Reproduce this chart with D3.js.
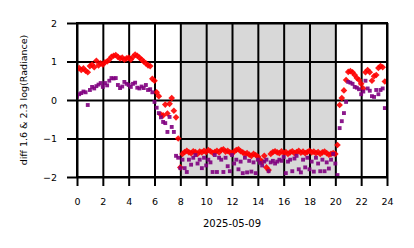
<!DOCTYPE html>
<html>
<head>
<meta charset="utf-8">
<script src="https://cdn.jsdelivr.net/npm/d3@7"></script>
<style>
  body { margin: 0; background: #fff; }
  text { font-family: "DejaVu Sans", sans-serif; fill: #000; }
</style>
</head>
<body>
<svg id="chart" width="414" height="248"></svg>
<script>
// readings every 10 minutes starting at 00:00
const stepHours = 1 / 6;

const redValues = [
  0.80, 0.83, 0.78, 0.82, 0.76, 0.72,
  0.88, 0.92, 0.85, 1.02, 0.90, 0.95,
  0.92, 0.98, 1.00, 1.05, 1.12, 1.15,
  1.17, 1.12, 1.08, 1.10, 1.05, 1.08,
  1.10, 1.05, 1.12, 1.18, 1.15, 1.10,
  1.05, 1.00, 0.95, 0.90, 0.88, 0.55,
  0.50, 0.20, 0.10, -0.38, -0.40, -0.12,
  -0.35, -0.10, 0.05, -0.28, -0.45, -1.00,
  -1.75, -1.40, -1.35, -1.32, -1.36, -1.38,
  -1.33, -1.35, -1.40, -1.34, -1.36, -1.32,
  -1.35, -1.30, -1.33, -1.37, -1.35, -1.32,
  -1.36, -1.30, -1.28, -1.34, -1.32, -1.36,
  -1.38, -1.34, -1.30, -1.28, -1.33, -1.36,
  -1.40, -1.38, -1.42, -1.45, -1.40, -1.43,
  -1.47, -1.55, -1.60, -1.45, -1.75, -1.82,
  -1.40, -1.35, -1.33, -1.36, -1.38, -1.33,
  -1.37, -1.35, -1.40, -1.36, -1.33, -1.38,
  -1.35, -1.32, -1.37, -1.34, -1.38, -1.35,
  -1.32, -1.36, -1.34, -1.38, -1.35, -1.40,
  -1.36, -1.34, -1.38, -1.42, -1.40, -1.38,
  -1.40, -1.17, -0.13, 0.05, 0.25, 0.52,
  0.73, 0.75, 0.72, 0.65, 0.57, 0.52,
  0.42, 0.30, 0.72, 0.78, 0.72, 0.50,
  0.62, 0.65, 0.83, 0.88, 0.85, 0.48
];

const purpleValues = [
  0.08, 0.15, 0.18, 0.22, 0.20, -0.13,
  0.26, 0.34, 0.30, 0.36, 0.40, 0.44,
  0.34, 0.44, 0.38, 0.50, 0.57, 0.56,
  0.57, 0.39, 0.31, 0.35, 0.47, 0.42,
  0.39, 0.34, 0.42, 0.45, 0.32, 0.30,
  0.35, 0.31, 0.39, 0.26, 0.28, 0.20,
  -0.05, -0.20, -0.34, -0.45, -0.57, -0.60,
  -0.83, -0.44, -0.70, -0.83, -1.45, -1.50,
  -1.77, -1.55, -1.77, -1.87, -1.55, -1.68,
  -1.50, -1.43, -1.65, -1.55, -1.77, -1.50,
  -1.70, -1.55, -1.62, -1.87, -1.43, -1.87,
  -1.50, -1.55, -1.87, -1.50, -1.72, -1.85,
  -1.43, -1.65, -1.55, -1.80, -1.60, -1.90,
  -1.50, -1.88, -1.58, -1.86, -1.62, -1.90,
  -1.55, -1.63, -1.70, -1.60, -1.55, -1.85,
  -1.62, -1.58, -1.65, -1.60, -1.55, -1.58,
  -1.48, -1.90, -1.60, -1.55, -1.85, -1.52,
  -1.45, -1.80, -1.88, -1.55, -1.75, -1.50,
  -1.80, -1.60, -1.86, -1.50, -1.65, -1.85,
  -1.55, -1.85, -1.62, -1.78, -1.55, -1.40,
  -1.65, -1.95, -0.73, -0.55, -0.34, -0.05,
  0.47, 0.45, 0.42, 0.34, 0.32, 0.28,
  0.15, 0.22, 0.50, 0.30, 0.24, 0.10,
  0.08, 0.26, 0.15, 0.26, 0.30, -0.21
];

const nightSpan = [8, 20];
const xTicks = [0, 2, 4, 6, 8, 10, 12, 14, 16, 18, 20, 22, 24];
const yTicks = [-2, -1, 0, 1, 2];
const xLabel = '2025-05-09';
const yLabel = 'diff 1.6 & 2.3  log(Radiance)';

const margin = {left: 77, right: 27, top: 23, bottom: 71};
const W = 414, H = 248;
const plotW = W - margin.left - margin.right;
const plotH = H - margin.top - margin.bottom;

const svg = d3.select('#chart');

const x = d3.scaleLinear().domain([0, 24]).range([margin.left, margin.left + plotW]);
const y = d3.scaleLinear().domain([-2, 2]).range([margin.top + plotH, margin.top]);

svg.append('defs').append('clipPath').attr('id', 'plot-clip')
  .append('rect')
  .attr('x', margin.left).attr('y', margin.top)
  .attr('width', plotW).attr('height', plotH);

// night shading
svg.append('rect')
  .attr('x', x(nightSpan[0]))
  .attr('y', margin.top)
  .attr('width', x(nightSpan[1]) - x(nightSpan[0]))
  .attr('height', plotH)
  .attr('fill', '#d8d8d8');

// grid + ticks
const xAxis = d3.axisBottom(x)
  .tickValues(xTicks)
  .tickFormat(d3.format('d'))
  .tickSizeInner(plotH + 9)
  .tickSizeOuter(0)
  .tickPadding(12);

const yAxis = d3.axisLeft(y)
  .tickValues(yTicks)
  .tickFormat(d => d < 0 ? '\u2212' + Math.abs(d) : d)
  .tickSizeInner(plotW + 10)
  .tickSizeOuter(0)
  .tickPadding(10);

const gx = svg.append('g')
  .attr('transform', `translate(0, ${margin.top})`)
  .call(xAxis);

const gy = svg.append('g')
  .attr('transform', `translate(${margin.left + plotW}, 0)`)
  .call(yAxis);

[gx, gy].forEach(g => {
  g.select('.domain').remove();
  g.selectAll('line').attr('stroke', '#000').attr('stroke-width', 2);
  g.selectAll('text').attr('font-size', 9.5).attr('fill', '#000');
});

// points
const pts = svg.append('g').attr('clip-path', 'url(#plot-clip)');

const diamond = d3.symbol(d3.symbolSquare, 22)();
const square = d3.symbol(d3.symbolSquare, 15)();

pts.selectAll('path.red')
  .data(redValues)
  .join('path')
  .attr('class', 'red')
  .attr('d', diamond)
  .attr('transform', (d, i) => `translate(${x(i * stepHours)}, ${y(d)}) rotate(45)`)
  .attr('fill', '#ff0000')
  .attr('opacity', 0.9);

pts.selectAll('path.purple')
  .data(purpleValues)
  .join('path')
  .attr('class', 'purple')
  .attr('d', square)
  .attr('transform', (d, i) => `translate(${x(i * stepHours)}, ${y(d)})`)
  .attr('fill', '#800080')
  .attr('opacity', 0.9);

// frame
svg.append('rect')
  .attr('x', margin.left).attr('y', margin.top)
  .attr('width', plotW).attr('height', plotH)
  .attr('fill', 'none')
  .attr('stroke', '#000')
  .attr('stroke-width', 2);

// labels
svg.append('text')
  .attr('x', margin.left + plotW / 2)
  .attr('y', 227)
  .attr('text-anchor', 'middle')
  .attr('font-size', 10)
  .text(xLabel);

svg.append('text')
  .attr('transform', `translate(27, ${margin.top + plotH / 2}) rotate(-90)`)
  .attr('text-anchor', 'middle')
  .attr('font-size', 9.5)
  .text(yLabel);
</script>
</body>
</html>
